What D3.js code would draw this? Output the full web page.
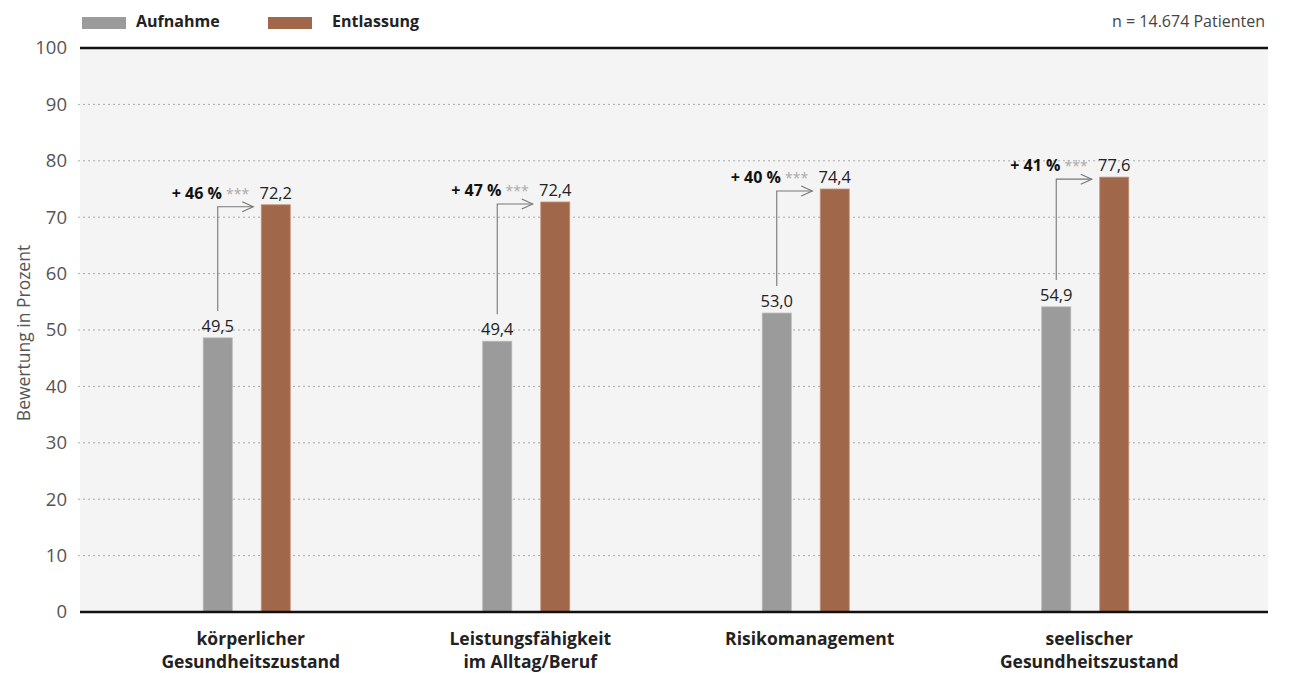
<!DOCTYPE html>
<html><head><meta charset="utf-8">
<script src="https://cdn.jsdelivr.net/npm/d3@7"></script>
<style>
html,body{margin:0;padding:0;background:#fff;}
text{font-family:"Open Sans","Noto Sans",sans-serif;}
</style></head>
<body><svg id="c" width="1306" height="673"></svg>
<script>
const categories = [["körperlicher","Gesundheitszustand"],["Leistungsfähigkeit","im Alltag/Beruf"],["Risikomanagement"],["seelischer","Gesundheitszustand"]];
const series = ["Aufnahme","Entlassung"];
const aufnahme = [48.6, 48.0, 53.0, 54.1];
const entlassung = [72.2, 72.7, 75.0, 77.1];
const aufnahmeLabels = ["49,5","49,4","53,0","54,9"];
const entlassungLabels = ["72,2","72,4","74,4","77,6"];
const changeLabels = ["+ 46 %","+ 47 %","+ 40 %","+ 41 %"];
const significance = ["***","***","***","***"];
const yTicks = [0,10,20,30,40,50,60,70,80,90,100];
const colors = {"Aufnahme":"#9b9b9b","Entlassung":"#a0674a"};

const svg = d3.select("#c");
const plotL = 80, plotR = 1268, plotT = 48, plotB = 612;
const y = d3.scaleLinear().domain([0,100]).range([plotB, plotT]);
const catKeys = categories.map(c => c.join(" "));
const x0 = d3.scaleBand().domain(catKeys).range([107, 1225]).paddingInner(0);
const x1 = d3.scaleBand().domain(series).range([-43.5, 43.5]).paddingInner(0.5);

// background
svg.append("rect").attr("x", plotL).attr("y", plotT).attr("width", plotR-plotL).attr("height", plotB-plotT).attr("fill", "#f3f4f3");

// gridlines
svg.append("g").selectAll("line").data(yTicks.filter(t => t>0 && t<100)).join("line")
  .attr("x1", 78).attr("x2", plotR).attr("y1", d => y(d)).attr("y2", d => y(d))
  .attr("stroke", "#aaa").attr("stroke-width", 1).attr("stroke-dasharray", "2,3");

// y axis tick labels
const yAxis = d3.axisLeft(y).tickValues(yTicks).tickSize(0).tickPadding(0).tickFormat(d3.format("d"));
const ya = svg.append("g").attr("transform", `translate(67,0)`).call(yAxis);
ya.select(".domain").remove();
ya.selectAll("text").attr("font-size", 18.5).attr("fill", "#555").attr("font-family", '"Open Sans",sans-serif');

// y title
svg.append("text").attr("transform", "translate(30,333) rotate(-90)").attr("text-anchor","middle")
  .attr("font-size", 17.5).attr("fill", "#555").text("Bewertung in Prozent");

// top line
svg.append("line").attr("x1", plotL).attr("x2", plotR).attr("y1", y(100)).attr("y2", y(100)).attr("stroke", "#111").attr("stroke-width", 2.5);

// bars
const data = catKeys.map((k,i) => ({k, i, vals: [
  {s:"Aufnahme", v: aufnahme[i], label: aufnahmeLabels[i]},
  {s:"Entlassung", v: entlassung[i], label: entlassungLabels[i]}]}));
const cx = k => x0(k) + x0.bandwidth()/2;
const groups = svg.append("g").selectAll("g").data(data).join("g")
  .attr("transform", d => `translate(${cx(d.k)},0)`);
groups.selectAll("rect").data(d => d.vals).join("rect")
  .attr("x", d => x1(d.s)).attr("width", x1.bandwidth())
  .attr("y", d => y(d.v)).attr("height", d => y(0) - y(d.v))
  .attr("fill", d => colors[d.s])
  .attr("stroke", d => d.s === "Aufnahme" ? "#b5b5b5" : "#c39178").attr("stroke-width", 0.8);
groups.selectAll("text.val").data(d => d.vals).join("text").attr("class","val")
  .attr("x", d => x1(d.s) + x1.bandwidth()/2).attr("y", d => y(d.v) - 6)
  .attr("text-anchor","middle").attr("font-size", 16.5).attr("fill", "#222").text(d => d.label);

// arrows
groups.each(function(d){
  const g = d3.select(this);
  const gx = x1("Aufnahme") + x1.bandwidth()/2;
  const ex = x1("Entlassung");
  const yTop = y(d.vals[1].v) + 2;
  const yBot = y(d.vals[0].v) - 27;
  g.append("path").attr("d", `M${gx},${yBot}V${yTop}H${ex-8}`).attr("fill","none").attr("stroke","#777").attr("stroke-width",1.1);
  g.append("path").attr("d", `M${ex-19},${yTop-5}L${ex-8},${yTop}L${ex-19},${yTop+5}`).attr("fill","none").attr("stroke","#777").attr("stroke-width",1.1);
  const t = g.append("text").attr("x", ex - 12).attr("y", y(d.vals[1].v) - 6).attr("text-anchor","end").attr("font-size", 16);
  t.append("tspan").attr("font-weight","bold").attr("fill","#111").text(changeLabels[d.i] + " ");
  t.append("tspan").attr("fill","#aaa").attr("font-size", 14).text(significance[d.i]);
});

// bottom axis line
svg.append("line").attr("x1", plotL).attr("x2", plotR).attr("y1", y(0)).attr("y2", y(0)).attr("stroke", "#111").attr("stroke-width", 2.5);

// category labels
const xl = svg.append("g").selectAll("text").data(categories).join("text")
  .attr("x", (d,i) => cx(catKeys[i]) + 4).attr("y", 645).attr("text-anchor","middle")
  .attr("font-size", 17.5).attr("font-weight","bold").attr("fill","#222");
xl.selectAll("tspan").data(d => d).join("tspan")
  .attr("x", function(){ return d3.select(this.parentNode).attr("x"); })
  .attr("dy", (d,i) => i === 0 ? 0 : 23).text(d => d);

// legend
const leg = svg.append("g");
const legX = [82, 268];
series.forEach((s,i) => {
  leg.append("rect").attr("x", legX[i]).attr("y", 17).attr("width", 44).attr("height", 12).attr("fill", colors[s]);
  leg.append("text").attr("x", legX[i] + (i===0 ? 54 : 64)).attr("y", 27).attr("font-size", 16).attr("font-weight","bold").attr("fill","#222").text(s);
});
svg.append("text").attr("x", 1265).attr("y", 27).attr("text-anchor","end").attr("font-size", 16).attr("fill","#444").text("n = 14.674 Patienten");
</script></body></html>
